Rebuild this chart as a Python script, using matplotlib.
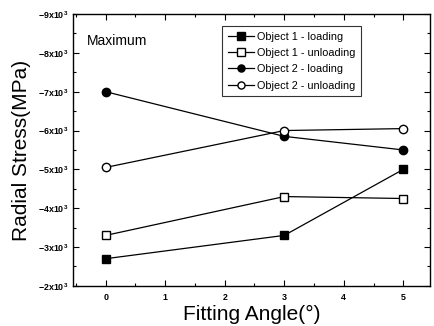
import matplotlib
matplotlib.use("Agg")
import matplotlib.pyplot as plt
from matplotlib.ticker import MultipleLocator, FuncFormatter

plt.rcParams['font.family'] = ['Liberation Sans', 'DejaVu Sans']
plt.rcParams['mathtext.fontset'] = 'custom'
plt.rcParams['mathtext.rm'] = 'Liberation Sans:bold'

angles = [0, 3, 5]
obj1_loading = [-2700, -3300, -5000]
obj1_unloading = [-3300, -4300, -4250]
obj2_loading = [-7000, -5850, -5500]
obj2_unloading = [-5050, -6000, -6050]

fig = plt.figure(figsize=(4.34, 3.26), dpi=100)
ax = fig.add_axes([0.168, 0.123, 0.823, 0.834])

ms = 6
ax.plot(angles, obj1_loading, '-s', color='black', lw=0.9, ms=ms,
        mfc='black', label='Object 1 - loading')
ax.plot(angles, obj1_unloading, '-s', color='black', lw=0.9, ms=ms,
        mfc='white', label='Object 1 - unloading')
ax.plot(angles, obj2_loading, '-o', color='black', lw=0.9, ms=ms,
        mfc='black', label='Object 2 - loading')
ax.plot(angles, obj2_unloading, '-o', color='black', lw=0.9, ms=ms,
        mfc='white', label='Object 2 - unloading')

ax.set_xlim(-0.55, 5.45)
ax.set_ylim(-2000, -9000)
ax.xaxis.set_major_locator(MultipleLocator(1))
ax.xaxis.set_minor_locator(MultipleLocator(0.5))
ax.yaxis.set_major_locator(MultipleLocator(1000))
ax.yaxis.set_minor_locator(MultipleLocator(500))
ax.yaxis.set_major_formatter(FuncFormatter(
    lambda v, p: r'$\mathregular{%dx10^3}$' % int(round(v / 1000))))

ax.tick_params(which='both', direction='in', top=True, right=True,
               width=0.8, labelsize=6.4)
ax.tick_params(which='major', length=4)
ax.tick_params(which='minor', length=2)
ax.tick_params(axis='x', pad=5)
for lbl in ax.get_xticklabels() + ax.get_yticklabels():
    lbl.set_fontweight('bold')
for s in ax.spines.values():
    s.set_linewidth(1.0)

ax.set_xlabel('Fitting Angle(°)', fontsize=15, labelpad=2)
ax.set_ylabel('Radial Stress(MPa)', fontsize=15, labelpad=5)

ax.text(0.04, 0.885, 'Maximum', transform=ax.transAxes, fontsize=10)

leg = ax.legend(loc='upper left', bbox_to_anchor=(0.418, 0.955), fontsize=7.8,
                frameon=True, fancybox=False, edgecolor='black',
                handlelength=2.4, labelspacing=0.58, borderpad=0.5,
                handletextpad=0.3, markerscale=0.85, borderaxespad=0)
leg.get_frame().set_linewidth(0.8)

fig.savefig('out.png', dpi=100)
